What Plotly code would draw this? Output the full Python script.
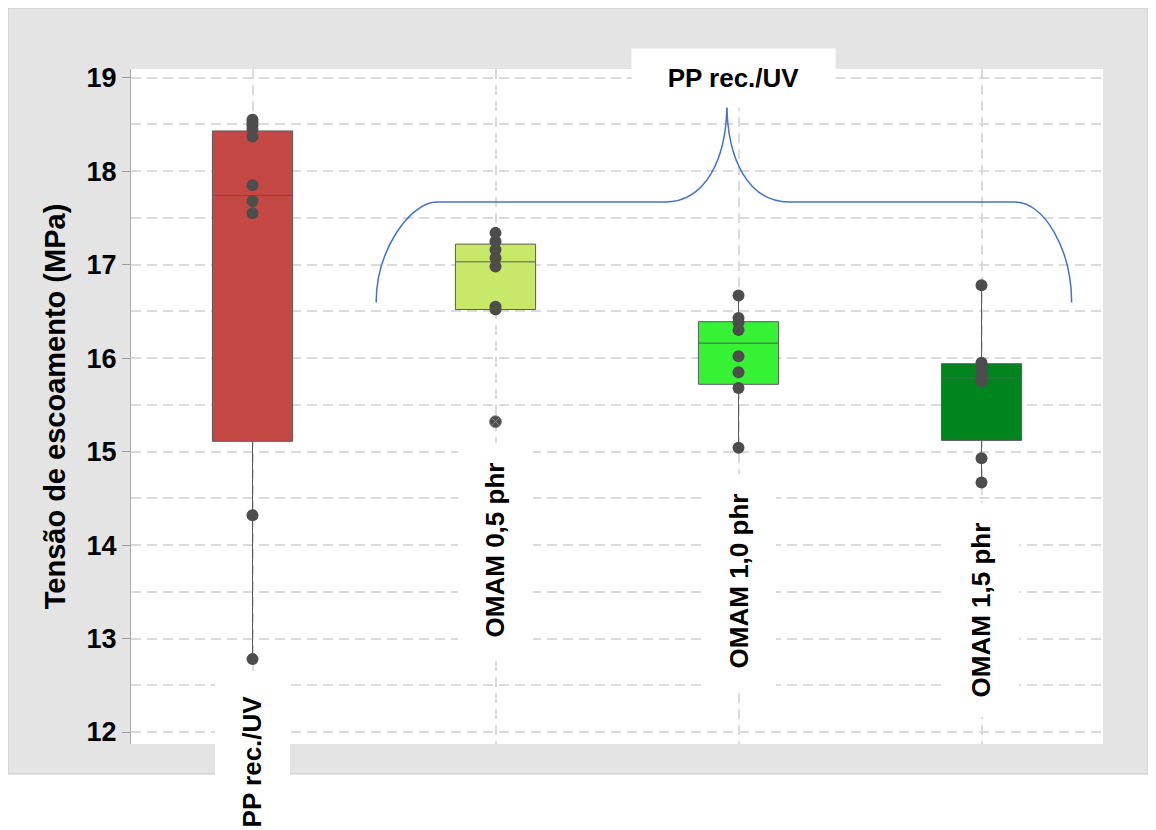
import plotly.graph_objects as go

# ---------------- data ----------------
categories = ["PP rec./UV", "OMAM 0,5 phr", "OMAM 1,0 phr", "OMAM 1,5 phr"]
group_title = "PP rec./UV"
y_title = "Tensão de escoamento (MPa)"
y_ticks = [12, 13, 14, 15, 16, 17, 18, 19]

q1 = [15.11, 16.52, 15.72, 15.12]
median = [17.74, 17.03, 16.16, 15.79]
q3 = [18.43, 17.22, 16.39, 15.94]
lower_fence = [12.78, 16.52, 15.04, 14.67]
upper_fence = [18.55, 17.34, 16.67, 16.78]

pts_pp = [18.55, 18.52, 18.49, 18.45, 18.37, 17.85, 17.68, 17.55, 14.32, 12.78]
pts_05 = [17.34, 17.25, 17.16, 17.07, 16.98, 16.55, 16.52]
pts_10 = [16.67, 16.43, 16.38, 16.30, 16.02, 15.85, 15.68, 15.04]
pts_15 = [16.78, 15.95, 15.88, 15.80, 15.75, 14.93, 14.67]
points = [pts_pp, pts_05, pts_10, pts_15]
outliers_05 = [15.32]

box_colors = ["#c54844", "#c8e86a", "#35f235", "#00851e"]

FONT = "Liberation Sans, Arial, sans-serif"
GRID = "#dadada"

fig = go.Figure()

for i, cat in enumerate(categories):
    fig.add_trace(go.Box(
        x=[i], q1=[q1[i]], median=[median[i]], q3=[q3[i]],
        lowerfence=[lower_fence[i]], upperfence=[upper_fence[i]],
        width=0.33, whiskerwidth=0, fillcolor=box_colors[i],
        line=dict(color="#5a5a5a", width=1), boxpoints=False,
        name=cat, showlegend=False, hoverinfo="skip"))
    fig.add_trace(go.Scatter(
        x=[i] * len(points[i]), y=points[i], mode="markers",
        marker=dict(color="#4d4d4d", size=12), showlegend=False))

fig.add_trace(go.Scatter(
    x=[1] * len(outliers_05), y=outliers_05, mode="markers",
    marker=dict(color="#4d4d4d", size=12, symbol="circle-x",
                line=dict(color="#8a8a8a", width=1)), showlegend=False))

# ---------------- layout ----------------
def px_to_x(px):
    return (px - 252.2) / 243.2

def py_to_y(py):
    return 19 - (py - 77.7) / 93.5

def P(px, py):
    return f"{px_to_x(px):.4f},{py_to_y(py):.4f}"

brace = ("M " + P(376, 302.5) + " C " + P(376, 250) + " " + P(410, 202) + " " + P(437, 202)
         + " L " + P(665, 202) + " C " + P(705, 202) + " " + P(727, 160) + " " + P(727, 103)
         + " C " + P(727, 160) + " " + P(749, 202) + " " + P(789, 202)
         + " L " + P(1015, 202) + " C " + P(1045, 202) + " " + P(1072, 250) + " " + P(1072, 302.5))

shapes = [
    dict(type="rect", xref="paper", yref="paper", x0=-0.1265, x1=1.0463, y0=-0.0444, y1=1.0904,
         fillcolor="#e4e4e4", line=dict(color="#c8c8c8", width=1), layer="below"),
    dict(type="rect", xref="paper", yref="paper", x0=0, x1=1, y0=0, y1=1,
         fillcolor="white", line=dict(width=0), layer="below"),
    dict(type="path", xref="x", yref="y", path=brace,
         line=dict(color="#4472c4", width=1.5)),
]

annotations = [
    dict(text=group_title, xref="paper", yref="paper", x=0.6199, y=0.9867,
         xanchor="center", yanchor="middle", showarrow=False, width=203, height=58,
         bgcolor="white", borderpad=0,
         font=dict(family=FONT, size=26, color="black", weight="bold")),
]
label_y = [-0.0267, 0.2874, 0.2415, 0.1985]
label_len = [172, 213, 213, 213]
for i, cat in enumerate(categories):
    annotations.append(dict(
        text=cat, xref="x", yref="paper", x=i, y=label_y[i], textangle=-90,
        xanchor="center", yanchor="middle", showarrow=False, width=label_len[i], height=74,
        bgcolor="white", borderpad=0,
        font=dict(family=FONT, size=26, color="black", weight="bold")))

fig.update_layout(
    width=1148, height=822,
    margin=dict(l=123, r=53, t=61, b=86),
    paper_bgcolor="white", plot_bgcolor="white",
    shapes=shapes, annotations=annotations,
    font=dict(family=FONT, color="black"),
    xaxis=dict(range=[-0.5, 3.5], tickvals=[0, 1, 2, 3], showticklabels=False,
               showgrid=True, gridcolor=GRID, gridwidth=1.5, griddash="10px,6px",
               zeroline=False, showline=False, ticks=""),
    yaxis=dict(range=[11.872, 19.093], tickvals=y_ticks, ticks="outside", ticklen=8,
               tickcolor="#9a9a9a", showline=True, linecolor="#aaaaaa", linewidth=1,
               showgrid=True, gridcolor=GRID, gridwidth=1.5, griddash="10px,6px",
               minor=dict(dtick=0.5, tick0=11.5, showgrid=True, gridcolor=GRID,
                          gridwidth=1.5, griddash="10px,6px", ticks=""),
               zeroline=False,
               tickfont=dict(family=FONT, size=27, color="black", weight="bold"),
               title=dict(text=y_title, standoff=12,
                          font=dict(family=FONT, size=29, color="black", weight="bold"))),
)

fig.write_html("out.html")
